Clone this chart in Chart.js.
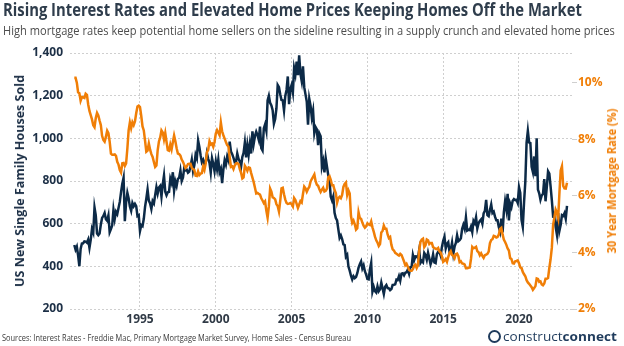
<!DOCTYPE html>
<html lang="en">
<head>
<meta charset="UTF-8">
<title>Rising Interest Rates and Elevated Home Prices</title>
<script src="https://cdn.jsdelivr.net/npm/chart.js"></script>
<style>
  body { margin: 0; background: #fff; font-family: "Open Sans", sans-serif; }
  #wrap { position: relative; width: 624px; height: 346px; overflow: hidden; }
  #chart { position: absolute; left: 0; top: 0; }
  .txt { position: absolute; white-space: nowrap; transform-origin: 0 50%; }
  #title { left: 3px; top: 0; font-size: 17px; line-height: 20px; font-weight: 700; color: #2f3d4c; }
  #sub { left: 3px; top: 22px; font-size: 13px; line-height: 16px; color: #4d4d4d; }
  #foot { left: 2px; top: 332px; font-size: 9.5px; line-height: 12px; color: #3a3a3a; }
  #logo { left: 503px; top: 328px; font-size: 13px; line-height: 16px; color: #1f3b5c; }
  #logo b { font-weight: 700; }
  #icon { position: absolute; left: 488px; top: 330px; width: 9px; height: 9px; border: 2px solid #1f3b5c; border-radius: 50%; }
  .ytitle { position: absolute; white-space: nowrap; font-size: 12.5px; line-height: 16px; font-weight: 700; transform-origin: 50% 50%; }
  #ltitle { left: 19.5px; top: 181px; color: #1c2f46; }
  #rtitle { left: 612px; top: 181px; color: #f07e06; }
</style>
</head>
<body>
<div id="wrap">
  <canvas id="chart" width="624" height="346"></canvas>
  <div id="title" class="txt">Rising Interest Rates and Elevated Home Prices Keeping Homes Off the Market</div>
  <div id="sub" class="txt">High mortgage rates keep potential home sellers on the sideline resulting in a supply crunch and elevated home prices</div>
  <div id="ltitle" class="ytitle">US New Single Family Houses Sold</div>
  <div id="rtitle" class="ytitle">30 Year Mortgage Rate (%)</div>
  <div id="foot" class="txt">Sources: Interest Rates - Freddie Mac, Primary Mortgage Market Survey, Home Sales - Census Bureau</div>
  <div id="icon"></div>
  <div id="logo" class="txt">construct<b>connect</b></div>
</div>
<script>
// monthly series, first value = Sep 1990
const startYear = 1990;
const startMonth = 9;

// new single family houses sold (thousands, SAAR)
const homeSales = [
  500, 478, 492, 452,                                              // 1990
  401, 482, 507, 508, 517, 516, 511, 526, 487, 524, 575, 558,      // 1991
  676, 639, 554, 546, 554, 596, 627, 636, 650, 621, 614, 639,      // 1992
  560, 575, 591, 665, 622, 656, 645, 673, 702, 748, 787, 815,      // 1993
  612, 700, 745, 719, 680, 660, 697, 682, 693, 682, 636, 640,      // 1994
  566, 593, 588, 623, 679, 717, 760, 708, 695, 669, 706, 695,      // 1995
  734, 771, 741, 769, 777, 727, 784, 826, 750, 733, 747, 749,      // 1996
  811, 792, 841, 754, 798, 777, 810, 815, 849, 800, 816, 860,      // 1997
  850, 853, 839, 844, 869, 900, 847, 874, 923, 906, 990, 960,      // 1998
  920, 888, 899, 877, 887, 930, 904, 885, 840, 907, 881, 846,      // 1999
  892, 856, 900, 841, 857, 790, 855, 897, 877, 915, 897, 985,      // 2000
  938, 926, 909, 887, 888, 929, 904, 892, 866, 913, 932, 980,      // 2001
  911, 968, 923, 975, 929, 1033, 975, 1011, 1031, 1015, 993, 1055, // 2002
  954, 943, 1046, 1065, 1036, 1178, 1200, 1166, 1154, 1132, 1069, 1091, // 2003
  1140, 1250, 1240, 1207, 1180, 1178, 1131, 1199, 1227, 1290, 1160, 1231, // 2004
  1250, 1216, 1329, 1300, 1360, 1296, 1389, 1302, 1268, 1337, 1240, 1206, // 2005
  1173, 1064, 1185, 1153, 1098, 1130, 1024, 1053, 1042, 968, 1023, 1010,  // 2006
  868, 894, 840, 907, 867, 828, 803, 726, 709, 728, 651, 626,      // 2007
  615, 573, 533, 545, 528, 503, 500, 445, 454, 399, 380, 356,      // 2008
  338, 354, 345, 350, 368, 394, 410, 423, 390, 405, 377, 361,      // 2009
  341, 339, 385, 416, 282, 304, 284, 277, 306, 283, 292, 324,      // 2010
  297, 270, 304, 312, 298, 297, 288, 293, 313, 314, 316, 338,      // 2011
  336, 354, 333, 366, 368, 358, 370, 372, 385, 365, 396, 398,      // 2012
  453, 429, 447, 446, 439, 476, 416, 426, 419, 463, 453, 431,      // 2013
  464, 438, 409, 426, 456, 418, 415, 457, 468, 468, 450, 491,      // 2014
  520, 539, 484, 505, 513, 469, 478, 511, 459, 492, 510, 546,      // 2015
  518, 523, 531, 576, 595, 575, 629, 568, 572, 570, 586, 561,      // 2016
  613, 602, 630, 578, 602, 613, 620, 600, 648, 660, 712, 640,      // 2017
  635, 664, 690, 650, 656, 633, 616, 616, 585, 563, 624, 559,      // 2018
  653, 705, 667, 740, 615, 694, 677, 707, 715, 710, 712, 697,      // 2019
  771, 744, 618, 585, 701, 796, 980, 1035, 981, 978, 867, 842,     // 2020
  915, 823, 1000, 760, 742, 712, 732, 740, 809, 705, 771, 845,     // 2021
  834, 775, 709, 634, 636, 585, 549, 650, 567, 595, 640, 636,      // 2022
  649, 623, 683                                                    // 2023
];

// Freddie Mac 30 year fixed rate (%)
const mortgageRate = [
  10.18, 10.18, 10.01, 9.67,                                                  // 1990
  9.64, 9.37, 9.50, 9.49, 9.47, 9.62, 9.58, 9.24, 9.01, 8.86, 8.71, 8.50,     // 1991
  8.43, 8.76, 8.94, 8.85, 8.67, 8.51, 8.13, 7.98, 7.92, 8.09, 8.31, 8.22,     // 1992
  7.92, 7.50, 7.46, 7.46, 7.47, 7.42, 7.21, 7.11, 6.92, 6.83, 7.16, 7.17,     // 1993
  7.06, 7.15, 7.68, 8.32, 8.60, 8.40, 8.61, 8.51, 8.64, 8.93, 9.17, 9.20,     // 1994
  9.15, 8.83, 8.46, 8.32, 7.96, 7.57, 7.61, 7.86, 7.64, 7.48, 7.38, 7.20,     // 1995
  7.03, 7.08, 7.62, 7.93, 8.07, 8.32, 8.25, 8.00, 8.23, 7.92, 7.62, 7.60,     // 1996
  7.82, 7.65, 7.90, 8.14, 7.94, 7.69, 7.50, 7.48, 7.43, 7.29, 7.21, 7.10,     // 1997
  6.99, 7.04, 7.13, 7.14, 7.14, 7.00, 6.95, 6.92, 6.72, 6.71, 6.87, 6.74,     // 1998
  6.79, 6.81, 7.04, 6.92, 7.15, 7.55, 7.63, 7.94, 7.82, 7.85, 7.74, 7.91,     // 1999
  8.21, 8.33, 8.24, 8.15, 8.60, 8.29, 8.15, 8.03, 7.91, 7.80, 7.75, 7.38,     // 2000
  7.03, 7.05, 6.95, 7.08, 7.15, 7.16, 7.13, 6.95, 6.82, 6.62, 6.66, 7.07,     // 2001
  7.00, 6.89, 7.01, 6.99, 6.81, 6.65, 6.49, 6.29, 6.09, 6.11, 6.07, 6.05,     // 2002
  5.92, 5.84, 5.75, 5.81, 5.48, 5.23, 5.63, 6.26, 6.15, 5.95, 5.93, 5.88,     // 2003
  5.71, 5.64, 5.45, 5.83, 6.27, 6.29, 6.06, 5.87, 5.75, 5.72, 5.73, 5.75,     // 2004
  5.71, 5.63, 5.93, 5.86, 5.72, 5.58, 5.70, 5.82, 5.77, 6.07, 6.33, 6.27,     // 2005
  6.15, 6.25, 6.32, 6.51, 6.60, 6.68, 6.76, 6.52, 6.40, 6.36, 6.24, 6.14,     // 2006
  6.22, 6.29, 6.16, 6.18, 6.26, 6.66, 6.70, 6.57, 6.38, 6.38, 6.21, 6.10,     // 2007
  5.76, 5.92, 5.97, 5.92, 6.04, 6.32, 6.43, 6.48, 6.04, 6.20, 6.09, 5.29,     // 2008
  5.05, 5.13, 5.00, 4.81, 4.86, 5.42, 5.22, 5.19, 5.06, 4.95, 4.88, 4.93,     // 2009
  5.03, 4.99, 4.97, 5.10, 4.89, 4.74, 4.56, 4.43, 4.35, 4.23, 4.30, 4.71,     // 2010
  4.76, 4.95, 4.84, 4.84, 4.64, 4.51, 4.55, 4.27, 4.11, 4.07, 3.99, 3.96,     // 2011
  3.92, 3.89, 3.95, 3.91, 3.80, 3.68, 3.55, 3.60, 3.50, 3.38, 3.35, 3.35,     // 2012
  3.41, 3.53, 3.57, 3.45, 3.54, 4.07, 4.37, 4.46, 4.49, 4.19, 4.26, 4.46,     // 2013
  4.43, 4.30, 4.34, 4.34, 4.19, 4.16, 4.13, 4.12, 4.16, 4.04, 4.00, 3.86,     // 2014
  3.67, 3.71, 3.77, 3.67, 3.84, 3.98, 4.05, 3.91, 3.89, 3.80, 3.94, 3.96,     // 2015
  3.87, 3.66, 3.69, 3.61, 3.60, 3.57, 3.44, 3.44, 3.46, 3.47, 3.77, 4.20,     // 2016
  4.15, 4.17, 4.20, 4.05, 4.01, 3.90, 3.97, 3.88, 3.81, 3.90, 3.92, 3.95,     // 2017
  4.03, 4.33, 4.44, 4.47, 4.59, 4.57, 4.53, 4.55, 4.63, 4.83, 4.87, 4.64,     // 2018
  4.46, 4.37, 4.27, 4.14, 4.07, 3.80, 3.77, 3.62, 3.61, 3.69, 3.70, 3.72,     // 2019
  3.62, 3.47, 3.45, 3.31, 3.23, 3.16, 3.02, 2.94, 2.89, 2.83, 2.77, 2.68,     // 2020
  2.74, 2.81, 3.08, 3.06, 2.96, 2.98, 2.87, 2.84, 2.90, 3.07, 3.07, 3.10,     // 2021
  3.45, 3.76, 4.17, 4.98, 5.23, 5.52, 5.41, 5.22, 6.11, 6.90, 7.05, 6.36,     // 2022
  6.27, 6.26, 6.47                                                            // 2023
];

const yearTicks = [1995, 2000, 2005, 2010, 2015, 2020];
const salesTicks = [200, 400, 600, 800, 1000, 1200, 1400];
const rateTicks = [2, 4, 6, 8, 10];

const navy = '#0c2a47';
const orange = '#f07e06';
const gridColor = '#cfcfcf';

const monthX = homeSales.map((_, i) => startYear + (startMonth - 1 + i) / 12);
const tickFont = { family: 'Open Sans', size: 12, weight: 'bold' };

new Chart(document.getElementById('chart'), {
  type: 'line',
  data: {
    datasets: [
      {
        label: '30 Year Mortgage Rate (%)',
        data: mortgageRate.map((v, i) => ({ x: monthX[i], y: v })),
        yAxisID: 'y1',
        borderColor: orange,
        borderWidth: 2.5,
        pointRadius: 0,
        tension: 0
      },
      {
        label: 'US New Single Family Houses Sold',
        data: homeSales.map((v, i) => ({ x: monthX[i], y: v })),
        yAxisID: 'y',
        borderColor: navy,
        borderWidth: 2.5,
        pointRadius: 0,
        tension: 0
      }
    ]
  },
  options: {
    responsive: false,
    animation: false,
    layout: { padding: { top: 53, bottom: 17, left: 0, right: 0 } },
    plugins: { legend: { display: false }, tooltip: { enabled: false } },
    scales: {
      x: {
        type: 'linear',
        min: 1990.383,
        max: 2023.496,
        afterBuildTicks: s => { s.ticks = yearTicks.map(v => ({ value: v })); },
        afterFit: s => { s.height = 20; },
        ticks: { callback: v => String(v), font: tickFont, color: '#303a46', padding: 3, maxRotation: 0, autoSkip: false },
        grid: { color: gridColor, drawTicks: false },
        border: { display: false, dash: [2, 2] }
      },
      y: {
        position: 'left',
        min: 200,
        max: 1400,
        afterBuildTicks: s => { s.ticks = salesTicks.map(v => ({ value: v })); },
        afterFit: s => { s.width = 70; },
        ticks: { callback: v => v.toLocaleString('en-US'), font: tickFont, color: '#1c2f46', padding: 7 },
        grid: { color: gridColor, drawTicks: false },
        border: { display: false, dash: [2, 2] }
      },
      y1: {
        position: 'right',
        min: 2,
        max: 11.06,
        afterBuildTicks: s => { s.ticks = rateTicks.map(v => ({ value: v })); },
        afterFit: s => { s.width = 52; },
        ticks: { callback: v => v + '%', font: tickFont, color: orange, padding: 1 },
        grid: { drawOnChartArea: false, drawTicks: true, tickLength: 5, color: gridColor },
        border: { display: false }
      }
    }
  }
});

// squeeze text to the widths seen in the picture
function fit(id, w, base) {
  const el = document.getElementById(id);
  const k = w / el.offsetWidth;
  el.style.transform = (base || '') + ' scaleX(' + k + ')';
}
fit('title', 579);
fit('sub', 612);
fit('foot', 349);
fit('logo', 114);
fit('ltitle', 212, 'translate(-50%,-50%) rotate(-90deg)');
fit('rtitle', 145, 'translate(-50%,-50%) rotate(-90deg)');
</script>
</body>
</html>
